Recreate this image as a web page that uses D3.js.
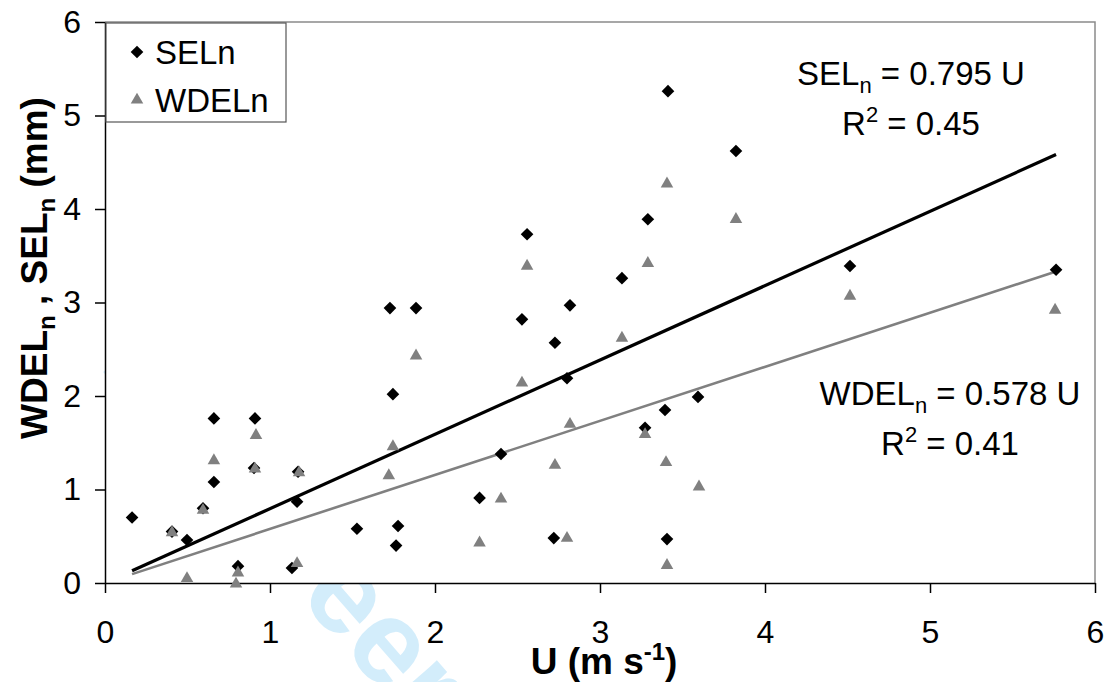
<!DOCTYPE html>
<html lang="en">

<head>
    <meta charset="UTF-8">
    <title>WDELn and SELn vs U</title>
    <style>
        body {
            margin: 0;
            padding: 0;
            background-color: #fff;
        }

        svg {
            display: block;
            font-family: 'Liberation Sans', Arial, sans-serif;
        }

        .axis path,
        .axis line {
            stroke: #000;
            stroke-width: 1.5px;
        }

        .axis text {
            font-size: 32px;
            fill: #000;
        }

        .title {
            font-size: 37px;
            font-weight: bold;
        }

        .note {
            font-size: 33px;
        }
    </style>
</head>

<body>
    <svg width="1108" height="682"></svg>

    <script src="https://d3js.org/d3.v7.min.js"></script>
    <script>
        // SELn points (diamonds)
        const selU = [0.164, 0.406, 0.497, 0.594, 0.66, 0.66, 0.806, 0.903, 0.909, 1.133, 1.164, 1.17,
            1.527, 1.727, 1.745, 1.764, 1.776, 1.885, 2.27, 2.40, 2.527, 2.558, 2.72, 2.727, 2.80, 2.818,
            3.133, 3.273, 3.29, 3.394, 3.406, 3.412, 3.594, 3.824, 4.515, 5.764];
        const selV = [0.70, 0.55, 0.46, 0.80, 1.76, 1.08, 0.18, 1.23, 1.76, 0.16, 0.87, 1.19,
            0.58, 2.94, 2.02, 0.40, 0.61, 2.94, 0.91, 1.38, 2.82, 3.73, 0.48, 2.57, 2.19, 2.97,
            3.26, 1.66, 3.89, 1.85, 0.47, 5.26, 1.99, 4.62, 3.39, 3.35];

        // WDELn points (triangles)
        const wdelU = [0.406, 0.497, 0.594, 0.66, 0.794, 0.806, 0.909, 0.915, 1.164, 1.176, 1.72, 1.745,
            1.885, 2.27, 2.40, 2.527, 2.558, 2.727, 2.80, 2.818, 3.133, 3.273, 3.29, 3.40, 3.406, 3.406,
            3.60, 3.824, 4.515, 5.758];
        const wdelV = [0.55, 0.06, 0.79, 1.32, 0.0, 0.12, 1.23, 1.59, 0.22, 1.19, 1.16, 1.47,
            2.44, 0.44, 0.91, 2.15, 3.40, 1.27, 0.49, 1.71, 2.63, 1.60, 3.43, 1.30, 0.20, 4.28,
            1.04, 3.90, 3.08, 2.93];

        // trend lines through origin
        const fitNames = ["SEL", "WDEL"];
        const fitSlopes = [0.795, 0.578];
        const fitR2 = ["0.45", "0.41"];
        const fitColors = ["#000", "#808080"];

        const xTicks = [0, 1, 2, 3, 4, 5, 6];
        const yTicks = [0, 1, 2, 3, 4, 5, 6];

        const width = 1108;
        const height = 682;
        const margin = { top: 22, right: 13, bottom: 99, left: 105 };

        const svg = d3.select("svg");

        const x = d3.scaleLinear().domain([0, 6]).range([margin.left, width - margin.right]);
        const y = d3.scaleLinear().domain([0, 6]).range([height - margin.bottom, margin.top]);

        // watermark, mostly covered by the plot area
        svg.append("text")
            .attr("transform", "translate(98,366) rotate(49)")
            .attr("font-size", 119)
            .attr("font-weight", "bold")
            .attr("fill", "#d3edfb")
            .text("For Peer Review");

        // plot area
        svg.append("rect")
            .attr("x", x(0))
            .attr("y", y(6))
            .attr("width", x(6) - x(0))
            .attr("height", y(0) - y(6))
            .attr("fill", "#fff");

        svg.append("path")
            .attr("d", `M${x(0)},${y(6)}H${x(6)}V${y(0)}`)
            .attr("fill", "none")
            .attr("stroke", "#8a8a8a")
            .attr("stroke-width", 1.5);

        // axes
        svg.append("g")
            .attr("class", "axis")
            .attr("transform", `translate(0,${y(0)})`)
            .call(d3.axisBottom(x).tickValues(xTicks).tickFormat(d3.format("d"))
                .tickSize(10).tickSizeOuter(0).tickPadding(27));

        svg.append("g")
            .attr("class", "axis")
            .attr("transform", `translate(${x(0)},0)`)
            .call(d3.axisLeft(y).tickValues(yTicks).tickFormat(d3.format("d"))
                .tickSize(10).tickSizeOuter(0).tickPadding(14));

        // trend lines
        const uRange = d3.extent(selU);
        fitSlopes.forEach((s, i) => {
            svg.append("line")
                .attr("x1", x(uRange[0]))
                .attr("y1", y(s * uRange[0]))
                .attr("x2", x(uRange[1]))
                .attr("y2", y(s * uRange[1]))
                .attr("stroke", fitColors[i])
                .attr("stroke-width", i === 0 ? 3.2 : 2.6);
        });

        const diamond = d3.symbol(d3.symbolSquare, 80)();
        const triangle = d3.symbol(d3.symbolTriangle, 68)();

        // SELn
        svg.append("g")
            .selectAll("path")
            .data(selU.map((u, i) => [u, selV[i]]))
            .join("path")
            .attr("d", diamond)
            .attr("transform", d => `translate(${x(d[0])},${y(d[1])}) rotate(45)`)
            .attr("fill", "#000");

        // WDELn
        svg.append("g")
            .selectAll("path")
            .data(wdelU.map((u, i) => [u, wdelV[i]]))
            .join("path")
            .attr("d", triangle)
            .attr("transform", d => `translate(${x(d[0])},${y(d[1]) + 1})`)
            .attr("fill", "#808080");

        // legend
        const legend = svg.append("g");
        legend.append("rect")
            .attr("x", x(0) + 1)
            .attr("y", y(6) + 1)
            .attr("width", 180)
            .attr("height", 99)
            .attr("fill", "#fff")
            .attr("stroke", "#555")
            .attr("stroke-width", 1.2);
        legend.append("path")
            .attr("d", diamond)
            .attr("transform", `translate(137,52) rotate(45)`)
            .attr("fill", "#000");
        legend.append("path")
            .attr("d", triangle)
            .attr("transform", `translate(137,100)`)
            .attr("fill", "#808080");
        legend.append("text")
            .attr("class", "note")
            .attr("x", 155)
            .attr("y", 64)
            .text("SELn");
        legend.append("text")
            .attr("class", "note")
            .attr("x", 155)
            .attr("y", 112)
            .text("WDELn");

        // fit annotations
        const notePos = [[911, 85, 135], [950, 405, 455]];
        fitNames.forEach((name, i) => {
            const t = svg.append("text")
                .attr("class", "note")
                .attr("x", notePos[i][0])
                .attr("y", notePos[i][1])
                .attr("text-anchor", "middle");
            t.append("tspan").text(name);
            t.append("tspan").attr("font-size", 22).attr("dy", 8).text("n");
            t.append("tspan").attr("dy", -8).text(` = ${fitSlopes[i]} U`);

            const r = svg.append("text")
                .attr("class", "note")
                .attr("x", notePos[i][0])
                .attr("y", notePos[i][2])
                .attr("text-anchor", "middle");
            r.append("tspan").text("R");
            r.append("tspan").attr("font-size", 22).attr("dy", -13).text("2");
            r.append("tspan").attr("dy", 13).text(` = ${fitR2[i]}`);
        });

        // axis titles
        const xt = svg.append("text")
            .attr("class", "title")
            .attr("x", 604)
            .attr("y", 674)
            .attr("text-anchor", "middle");
        xt.append("tspan").text("U (m s");
        xt.append("tspan").attr("font-size", 24).attr("dy", -14).text("-1");
        xt.append("tspan").attr("dy", 14).text(")");

        const yt = svg.append("text")
            .attr("class", "title")
            .attr("transform", "translate(47,268) rotate(-90)")
            .attr("text-anchor", "middle");
        yt.append("tspan").text("WDEL");
        yt.append("tspan").attr("font-size", 24).attr("dy", 8).text("n");
        yt.append("tspan").attr("dy", -8).text(" , SEL");
        yt.append("tspan").attr("font-size", 24).attr("dy", 8).text("n");
        yt.append("tspan").attr("dy", -8).text(" (mm)");
    </script>
</body>

</html>
